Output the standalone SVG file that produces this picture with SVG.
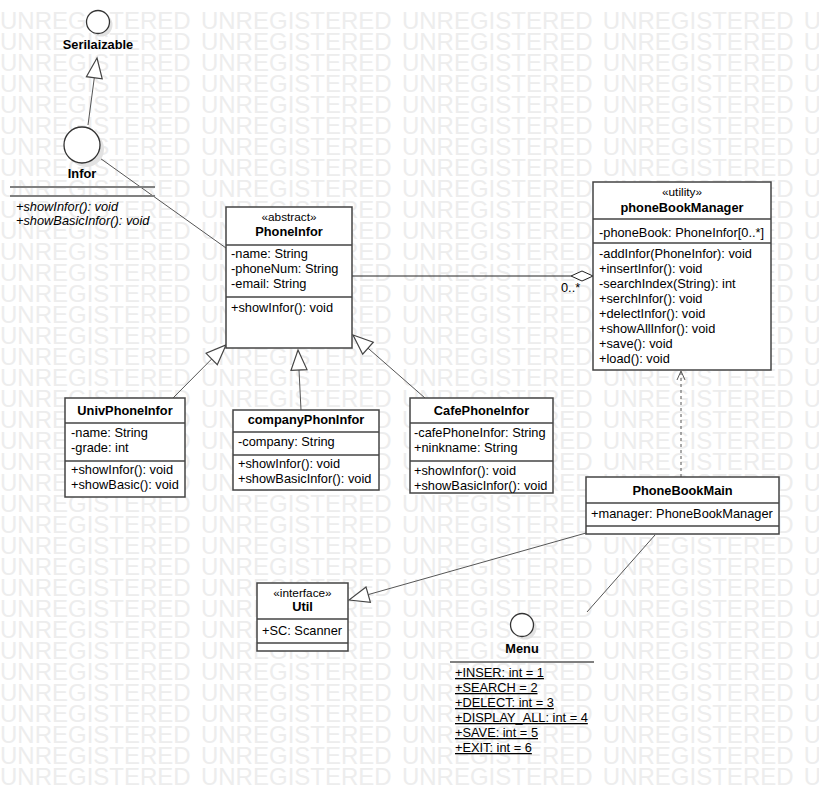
<svg xmlns="http://www.w3.org/2000/svg" xmlns:xlink="http://www.w3.org/1999/xlink" width="819" height="800" viewBox="0 0 819 800">
<style>
.wm{font-family:"Liberation Sans",Arial,sans-serif;font-size:24px;fill:#ededed;word-spacing:3.6px}
.box{fill:#fff;stroke:#444;stroke-width:1.5}
.sep{stroke:#444;stroke-width:1.5}
.t{font-family:"Liberation Sans",Arial,sans-serif;font-size:12.8px;fill:#000}
.b{font-weight:bold;text-anchor:middle}
.st{font-family:"Liberation Sans",Arial,sans-serif;font-size:11.8px;text-anchor:middle;fill:#000}
.i{font-style:italic}
.u{text-decoration:underline}
.ln{stroke:#555;stroke-width:1;fill:none}
.tri{fill:#fff;stroke:#444;stroke-width:1.2}
.circ{fill:#fff;stroke:#333;stroke-width:1.3}
.shd{fill:#e2e2e2}
.gl{stroke:#808080;stroke-width:2}
</style>
<defs>
<text id="wmrow" class="wm" x="0" y="29">UNREGISTERED UNREGISTERED UNREGISTERED UNREGISTERED UNREGISTERED</text>
</defs>
<g id="watermark">
<use xlink:href="#wmrow" y="0"/><use xlink:href="#wmrow" y="21"/><use xlink:href="#wmrow" y="42"/><use xlink:href="#wmrow" y="63"/>
<use xlink:href="#wmrow" y="84"/><use xlink:href="#wmrow" y="105"/><use xlink:href="#wmrow" y="126"/><use xlink:href="#wmrow" y="147"/>
<use xlink:href="#wmrow" y="168"/><use xlink:href="#wmrow" y="189"/><use xlink:href="#wmrow" y="210"/><use xlink:href="#wmrow" y="231"/>
<use xlink:href="#wmrow" y="252"/><use xlink:href="#wmrow" y="273"/><use xlink:href="#wmrow" y="294"/><use xlink:href="#wmrow" y="315"/>
<use xlink:href="#wmrow" y="336"/><use xlink:href="#wmrow" y="357"/><use xlink:href="#wmrow" y="378"/><use xlink:href="#wmrow" y="399"/>
<use xlink:href="#wmrow" y="420"/><use xlink:href="#wmrow" y="441"/><use xlink:href="#wmrow" y="462"/><use xlink:href="#wmrow" y="483"/>
<use xlink:href="#wmrow" y="504"/><use xlink:href="#wmrow" y="525"/><use xlink:href="#wmrow" y="546"/><use xlink:href="#wmrow" y="567"/>
<use xlink:href="#wmrow" y="588"/><use xlink:href="#wmrow" y="609"/><use xlink:href="#wmrow" y="630"/><use xlink:href="#wmrow" y="651"/>
<use xlink:href="#wmrow" y="672"/><use xlink:href="#wmrow" y="693"/><use xlink:href="#wmrow" y="714"/><use xlink:href="#wmrow" y="735"/>
<use xlink:href="#wmrow" y="756"/>
</g>

<g id="connectors">
<line class="ln" x1="88" y1="125" x2="94.3" y2="77.8"/>
<polygon class="tri" points="97,58 102.2,78.9 86.4,76.7"/>
<line class="ln" x1="97" y1="156" x2="226" y2="248"/>
<line class="ln" x1="173" y1="398" x2="211.7" y2="359"/>
<polygon class="tri" points="226,345 217.3,364.7 206.1,353.3"/>
<line class="ln" x1="301" y1="410" x2="299" y2="370"/>
<polygon class="tri" points="298,350 307,369.6 291,370.4"/>
<line class="ln" x1="425" y1="398" x2="368" y2="348.2"/>
<polygon class="tri" points="353,335 373.3,342.2 362.7,354.2"/>
<line x1="352" y1="276" x2="571" y2="276" stroke="#222" stroke-width="1"/>
<polygon points="593,276 582,271 571,276 582,281" fill="#fff" stroke="#222" stroke-width="1"/>
<text class="t" x="561" y="292">0..*</text>
<line class="ln" x1="681" y1="477" x2="681" y2="372" stroke-dasharray="3,3"/>
<polyline class="ln" points="677,380 681,371 685,380"/>
<line class="ln" x1="586" y1="533" x2="368.2" y2="594.6"/>
<polygon class="tri" points="349,600 370.4,602.3 366,586.9"/>
<line class="ln" x1="655" y1="535" x2="587" y2="612"/>
</g>

<g id="Serilaizable">
<circle class="shd" cx="101" cy="25" r="11.5"/>
<circle class="circ" cx="98" cy="22" r="11.5"/>
<text class="t b" x="98" y="49">Serilaizable</text>
</g>

<g id="Infor">
<circle class="shd" cx="86" cy="149" r="18"/>
<circle class="circ" cx="82" cy="145" r="18"/>
<text class="t b" x="82" y="178">Infor</text>
<line class="gl" x1="10" y1="187" x2="155" y2="187"/>
<line class="gl" x1="10" y1="196" x2="155" y2="196"/>
<text class="t i" x="16" y="211">+showInfor(): void</text>
<text class="t i" x="16" y="225">+showBasicInfor(): void</text>
</g>

<g id="PhoneInfor">
<rect class="box" x="226" y="207" width="126" height="141"/>
<line class="sep" x1="226" y1="245" x2="352" y2="245"/>
<line class="sep" x1="226" y1="297" x2="352" y2="297"/>
<text class="st" x="289" y="221">«abstract»</text>
<text class="t b" x="289" y="236">PhoneInfor</text>
<text class="t" x="231" y="258">-name: String</text>
<text class="t" x="231" y="273">-phoneNum: String</text>
<text class="t" x="231" y="288">-email: String</text>
<text class="t" x="231" y="312">+showInfor(): void</text>
</g>

<g id="phoneBookManager">
<rect class="box" x="593" y="182" width="178" height="188"/>
<line class="sep" x1="593" y1="219" x2="771" y2="219"/>
<line class="sep" x1="593" y1="243" x2="771" y2="243"/>
<text class="st" x="682" y="196">«utility»</text>
<text class="t b" x="682" y="212">phoneBookManager</text>
<text class="t" x="599" y="237">-phoneBook: PhoneInfor[0..*]</text>
<text class="t" x="599" y="258">-addInfor(PhoneInfor): void</text>
<text class="t" x="599" y="273">+insertInfor(): void</text>
<text class="t" x="599" y="288">-searchIndex(String): int</text>
<text class="t" x="599" y="303">+serchInfor(): void</text>
<text class="t" x="599" y="318">+delectInfor(): void</text>
<text class="t" x="599" y="333">+showAllInfor(): void</text>
<text class="t" x="599" y="348">+save(): void</text>
<text class="t" x="599" y="363">+load(): void</text>
</g>

<g id="UnivPhoneInfor">
<rect class="box" x="65" y="398" width="120" height="99"/>
<line class="sep" x1="65" y1="423" x2="185" y2="423"/>
<line class="sep" x1="65" y1="461" x2="185" y2="461"/>
<text class="t b" x="125" y="415">UnivPhoneInfor</text>
<text class="t" x="71" y="437">-name: String</text>
<text class="t" x="71" y="452">-grade: int</text>
<text class="t" x="71" y="474">+showInfor(): void</text>
<text class="t" x="71" y="489">+showBasic(): void</text>
</g>

<g id="companyPhonInfor">
<rect class="box" x="233" y="410" width="146" height="80"/>
<line class="sep" x1="233" y1="432" x2="379" y2="432"/>
<line class="sep" x1="233" y1="455" x2="379" y2="455"/>
<text class="t b" x="306" y="424">companyPhonInfor</text>
<text class="t" x="238" y="446">-company: String</text>
<text class="t" x="238" y="468">+showInfor(): void</text>
<text class="t" x="238" y="483">+showBasicInfor(): void</text>
</g>

<g id="CafePhoneInfor">
<rect class="box" x="410" y="398" width="143" height="95"/>
<line class="sep" x1="410" y1="423" x2="553" y2="423"/>
<line class="sep" x1="410" y1="461" x2="553" y2="461"/>
<text class="t b" x="481.5" y="415">CafePhoneInfor</text>
<text class="t" x="414" y="437">-cafePhoneInfor: String</text>
<text class="t" x="414" y="452">+ninkname: String</text>
<text class="t" x="414" y="475">+showInfor(): void</text>
<text class="t" x="414" y="490">+showBasicInfor(): void</text>
</g>

<g id="PhoneBookMain">
<rect class="box" x="586" y="477" width="193" height="57"/>
<line class="sep" x1="586" y1="503" x2="779" y2="503"/>
<line class="sep" x1="586" y1="526" x2="779" y2="526"/>
<text class="t b" x="682.5" y="495">PhoneBookMain</text>
<text class="t" x="591" y="518">+manager: PhoneBookManager</text>
</g>

<g id="Util">
<rect class="box" x="257" y="583" width="91" height="68"/>
<line class="sep" x1="257" y1="619" x2="348" y2="619"/>
<line class="sep" x1="257" y1="643" x2="348" y2="643"/>
<text class="st" x="302.5" y="597">«interface»</text>
<text class="t b" x="302.5" y="611">Util</text>
<text class="t" x="262" y="635">+SC: Scanner</text>
</g>

<g id="Menu">
<circle class="shd" cx="525" cy="628" r="11.5"/>
<circle class="circ" cx="522" cy="625" r="11.5"/>
<text class="t b" x="522" y="653">Menu</text>
<line class="gl" x1="450" y1="662" x2="594" y2="662"/>
<text class="t u" x="455" y="677">+INSER: int = 1</text>
<text class="t u" x="455" y="692">+SEARCH = 2</text>
<text class="t u" x="455" y="707">+DELECT: int = 3</text>
<text class="t u" x="455" y="722">+DISPLAY_ALL: int = 4</text>
<text class="t u" x="455" y="737">+SAVE: int = 5</text>
<text class="t u" x="455" y="752">+EXIT: int = 6</text>
</g>
</svg>
